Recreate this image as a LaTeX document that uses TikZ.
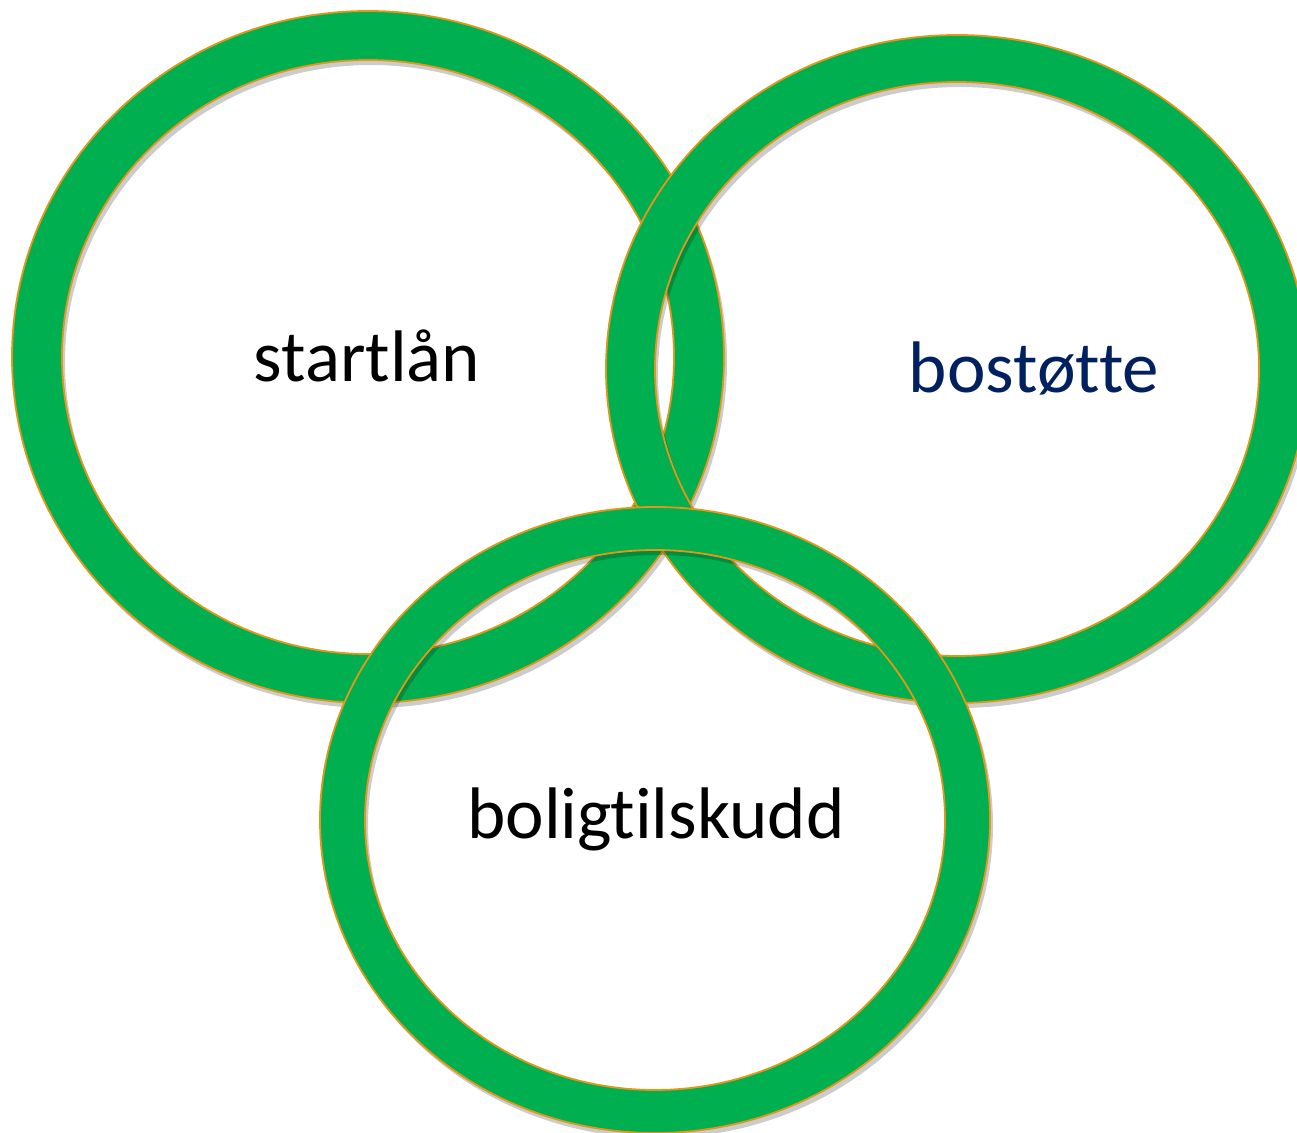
\documentclass[tikz,border=0pt]{standalone}
\usepackage{fontspec}
\setmainfont{Carlito}[Ligatures=NoCommon]
\definecolor{ringgreen}{RGB}{0,176,80}
\definecolor{ringedge}{RGB}{228,150,24}
\definecolor{textnavy}{RGB}{0,32,96}

\begin{document}
\begin{tikzpicture}[x=0.5pt,y=-0.5pt,
    ring/.style={fill=ringgreen,draw=ringedge,line width=0.9pt,even odd rule},
    ringshadow/.style={fill=black,fill opacity=0.2,even odd rule,
        transform canvas={shift={(1.5pt,-2.5pt)}}},
    lbl/.style={font=\fontsize{36.5}{42}\selectfont,anchor=base}]
    \useasboundingbox (0,0) rectangle (1297,1133);
    \clip (0,0) rectangle (1297,1133);
    \coordinate (lanc) at (368,357);
    \coordinate (stoc) at (957,369);
    \coordinate (tilc) at (655,820);
    % left ring
    \fill[ringshadow] (lanc) ellipse [x radius=356,y radius=346] (lanc) ellipse [x radius=306,y radius=297];
    \draw[ring] (lanc) ellipse [x radius=356,y radius=346] (lanc) ellipse [x radius=306,y radius=297];
    % right ring
    \fill[ringshadow] (stoc) ellipse [x radius=351,y radius=334] (stoc) ellipse [x radius=302,y radius=287];
    \draw[ring] (stoc) ellipse [x radius=351,y radius=334] (stoc) ellipse [x radius=302,y radius=287];
    % bottom ring, on top of both
    \fill[ringshadow] (tilc) ellipse [x radius=335,y radius=313] (tilc) ellipse [x radius=290,y radius=270];
    \draw[ring] (tilc) ellipse [x radius=335,y radius=313] (tilc) ellipse [x radius=290,y radius=270];
    \node[lbl] (startlan) at (367,382) {startlån};
    \node[lbl,text=textnavy] (bostotte) at (1034,393) {bostøtte};
    \node[lbl] (bolig) at (656,839) {boligtilskudd};
\end{tikzpicture}
\end{document}
